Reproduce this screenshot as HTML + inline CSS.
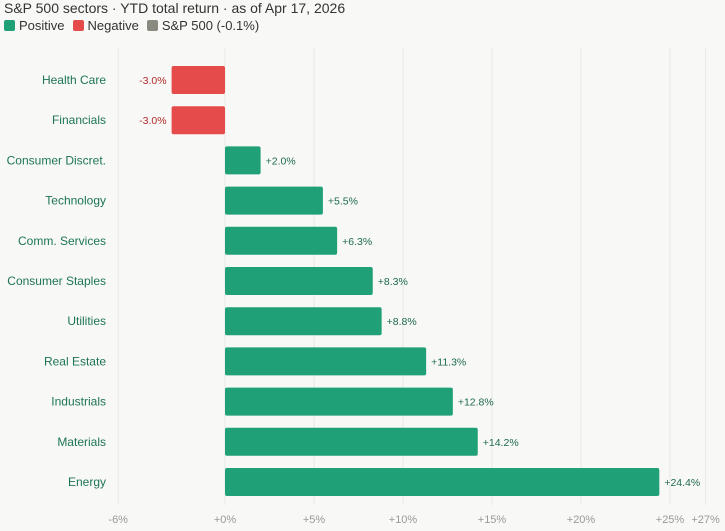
<!DOCTYPE html>
<html><head><meta charset="utf-8"><style>
body{margin:0;background:#f8f8f6;font-family:"Liberation Sans",sans-serif;}
#wrap{position:relative;width:725px;height:531px;overflow:hidden;}
.title{position:absolute;left:4px;top:0px;font-size:14px;color:#333;}
.legend{position:absolute;left:4px;top:18px;font-size:13px;color:#333;display:flex;gap:8px;align-items:center;}
.legend span.sw{display:inline-block;width:11px;height:11px;border-radius:2px;margin-right:4px;vertical-align:-1px;}
</style></head><body>
<div id="wrap">
<div class="title">S&amp;P 500 sectors · YTD total return · as of Apr 17, 2026</div>
<div class="legend">
<div><span class="sw" style="background:#1fa077"></span>Positive</div>
<div><span class="sw" style="background:#e54b4b"></span>Negative</div>
<div><span class="sw" style="background:#8a8a80"></span>S&amp;P 500 (-0.1%)</div>
</div>
<svg id="svg" width="725" height="531" style="position:absolute;left:0;top:0"></svg>
</div>
<script>
const categories=["Health Care","Financials","Consumer Discret.","Technology","Comm. Services","Consumer Staples","Utilities","Real Estate","Industrials","Materials","Energy"];
const values=[-3.0,-3.0,2.0,5.5,6.3,8.3,8.8,11.3,12.8,14.2,24.4];
const ticks=[-6,0,5,10,15,20,25,27];
const tickLabels=["-6%","+0%","+5%","+10%","+15%","+20%","+25%","+27%"];
const NS="http://www.w3.org/2000/svg";
const svg=document.getElementById('svg');
const x=v=>225+v*17.8;
const y=i=>80+i*40.2;
function mk(t,a){const e=document.createElementNS(NS,t);for(const k in a)e.setAttribute(k,a[k]);svg.appendChild(e);return e;}
ticks.forEach((t,i)=>{
 const g=mk('line',{x1:x(t),x2:x(t),y1:48,y2:505,stroke:'#e8e8e4','stroke-width':1});
 
 
 const tx=mk('text',{x:x(t),y:523,'text-anchor':'middle','font-size':11,fill:'#999'});
 tx.textContent=tickLabels[i];
 
 
});
categories.forEach((c,i)=>{
 const v=values[i],cy=y(i);
 const lb=mk('text',{x:106,y:cy+4,'text-anchor':'end','font-size':12,fill:'#1d7556'});
 lb.textContent=c;
 
 
 const x0=Math.min(x(0),x(v)),w=Math.abs(x(v)-x(0));
 const r=mk('rect',{x:x0,y:cy-14,width:w,height:28,rx:2,fill:v<0?'#e54b4b':'#1fa077'});
 
 
 const vt=mk('text',{x:v<0?x(v)-5:x(v)+5,y:cy+4,'text-anchor':v<0?'end':'start','font-size':10.5,fill:v<0?'#b02a2a':'#1d6a4e'});
 vt.textContent=(v<0?'':'+')+v.toFixed(1)+'%';
 
 
});
</script>
</body></html>
